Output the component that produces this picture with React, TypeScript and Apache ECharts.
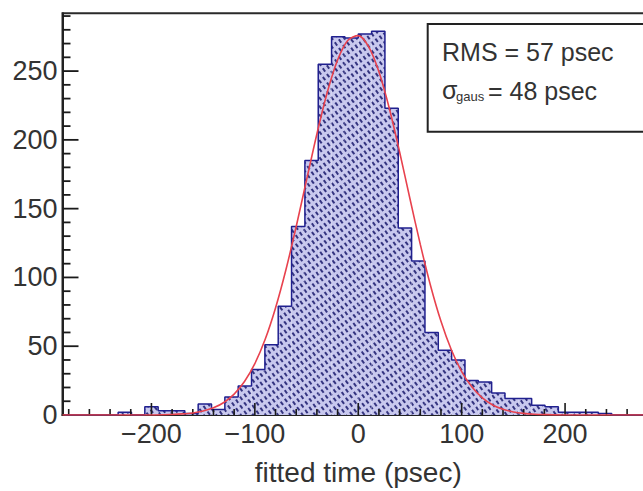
import React, { useEffect, useRef } from 'react';
import * as echarts from 'echarts';

// Histogram: bin width (psec) and index of first bin (edges at k * BIN_WIDTH)
const BIN_WIDTH = 12.9;
const FIRST_BIN_INDEX = -22;
const binCounts = [
  0, 0, 0, 0, 2, 0, 6, 3, 3, 1, 8, 4, 13, 21, 33, 51, 79, 137, 185, 255, 275, 274,
  277, 279, 223, 136, 112, 60, 47, 40, 25, 24, 16, 12, 12, 7, 6, 2, 2, 2, 1, 0, 0, 0,
];

// Gaussian fit curve
const fitX = [-286, -200, -180, -170, -160, -150, -140, -130, -120, -110, -100, -90, -80, -70, -60, -50, -40, -30, -20, -10, 0, 10, 20, 30, 40, 50, 60, 70, 80, 90, 100, 110, 120, 130, 140, 150, 160, 170, 180, 200, 286];
const fitY = [0, 0, 0.4, 0.8, 1.5, 2.9, 5.2, 9.1, 15.2, 24.3, 37.3, 55.0, 77.8, 105.4, 137.0, 170.8, 204.3, 234.4, 258.0, 272.4, 275.8, 267.8, 249.5, 223.0, 191.2, 157.2, 124.0, 93.8, 68.1, 47.4, 31.6, 20.3, 12.4, 7.3, 4.1, 2.2, 1.2, 0.6, 0.3, 0, 0];

const X_MIN = -286;
const X_MAX = 286;
const Y_MIN = 0;
const Y_MAX = 292;

// Axis ticks (ROOT style: major + minor, drawn inward)
const xMajorTicks = [-200, -100, 0, 100, 200];
const xMinorStep = 20;
const yMajorTicks = [0, 50, 100, 150, 200, 250];
const yMinorStep = 10;

const statsLine1 = 'RMS = 57 psec';
const statsSigma = 'σ';
const statsSub = 'gaus';
const statsLine2 = '= 48 psec';
const xAxisName = 'fitted time (psec)';

const FONT = '"Liberation Sans", Arial, Helvetica, sans-serif';

export default function App() {
  const ref = useRef<HTMLDivElement>(null);
  useEffect(() => {
    if (!ref.current) return;
    const chart = echarts.init(ref.current, undefined, { renderer: 'svg' });

    const barData = binCounts.map((c, i) => [(FIRST_BIN_INDEX + i + 0.5) * BIN_WIDTH, c]);
    const outline: number[][] = [];
    binCounts.forEach((c, i) => {
      const lo = (FIRST_BIN_INDEX + i) * BIN_WIDTH;
      const hi = lo + BIN_WIDTH;
      if (i === 0) outline.push([lo, 0]);
      outline.push([lo, c]);
      outline.push([hi, c]);
      if (i === binCounts.length - 1) outline.push([hi, 0]);
    });
    const fitData = fitX.map((x, i) => [x, fitY[i]]);

    const xTickData: number[][] = [];
    for (let v = Math.ceil(X_MIN / xMinorStep) * xMinorStep; v <= X_MAX; v += xMinorStep) {
      xTickData.push([v, Y_MIN, xMajorTicks.includes(v) ? 1 : 0]);
    }
    const yTickData: number[][] = [];
    for (let v = Y_MIN + yMinorStep; v <= Y_MAX; v += yMinorStep) {
      yTickData.push([X_MIN, v, yMajorTicks.includes(v) ? 1 : 0]);
    }

    const minus = (v: number) => (v < 0 ? '\u2212' + Math.abs(v) : String(v));

    chart.setOption({
      animation: false,
      textStyle: { fontFamily: FONT },
      grid: {
        left: 62.5,
        top: 13.3,
        right: 16,
        bottom: 76,
        show: true,
        borderColor: '#2a2a2a',
        borderWidth: 2,
        backgroundColor: 'transparent',
      },
      xAxis: {
        type: 'value',
        min: X_MIN,
        max: X_MAX,
        splitNumber: 5,
        name: xAxisName,
        nameLocation: 'middle',
        nameGap: 43,
        nameTextStyle: { fontSize: 28, color: '#333', fontFamily: FONT },
        axisLine: { show: true, onZero: false, lineStyle: { color: '#222', width: 2 } },
        axisTick: { show: false },
        axisLabel: {
          showMinLabel: false,
          showMaxLabel: false,
          fontSize: 27,
          color: '#333',
          margin: 5,
          formatter: minus,
          fontFamily: FONT,
        },
        splitLine: { show: false },
      },
      yAxis: {
        type: 'value',
        min: Y_MIN,
        max: Y_MAX,
        interval: 50,
        axisLine: { show: true, onZero: false, lineStyle: { color: '#222', width: 2 } },
        axisTick: { show: false },
        axisLabel: {
          showMaxLabel: false,
          fontSize: 27,
          color: '#333',
          margin: 5,
          fontFamily: FONT,
        },
        splitLine: { show: false },
      },
      series: [
        {
          type: 'bar',
          data: barData,
          barWidth: '100%',
          barGap: '-100%',
          itemStyle: {
            color: '#c8c8ee',
            decal: {
              symbol: 'rect',
              symbolSize: 1,
              dashArrayX: [2, 2.6],
              dashArrayY: [3.2, 2.8],
              rotation: -Math.PI / 5,
              color: 'rgba(15,15,100,0.8)',
            },
          },
          z: 2,
        },
        {
          type: 'line',
          data: outline,
          symbol: 'none',
          lineStyle: { color: '#20208f', width: 1.5 },
          z: 3,
        },
        {
          type: 'custom',
          data: xTickData,
          silent: true,
          clip: false,
          z: 5,
          renderItem: (params: any, api: any) => {
            const p = api.coord([api.value(0), api.value(1)]);
            const len = api.value(2) ? 12 : 6;
            return {
              type: 'line',
              shape: { x1: p[0], y1: p[1], x2: p[0], y2: p[1] - len },
              style: { stroke: '#1a1a1a', lineWidth: 1.6 },
            };
          },
        },
        {
          type: 'custom',
          data: yTickData,
          silent: true,
          clip: false,
          z: 5,
          renderItem: (params: any, api: any) => {
            const p = api.coord([api.value(0), api.value(1)]);
            const len = api.value(2) ? 16 : 8;
            return {
              type: 'line',
              shape: { x1: p[0], y1: p[1], x2: p[0] + len, y2: p[1] },
              style: { stroke: '#1a1a1a', lineWidth: 1.8 },
            };
          },
        },
        {
          type: 'line',
          data: fitData,
          smooth: 0.3,
          symbol: 'none',
          lineStyle: { color: '#e8424e', width: 1.6 },
          z: 6,
        },
      ],
      graphic: [
        {
          type: 'rect',
          z: 100,
          shape: { x: 427.7, y: 24, width: 320, height: 107.7 },
          style: { fill: '#ffffff', stroke: '#222', lineWidth: 2 },
        },
        {
          type: 'text',
          z: 101,
          x: 442,
          y: 52,
          style: { text: statsLine1, fill: '#333', font: `25px ${FONT}`, verticalAlign: 'middle' },
        },
        {
          type: 'text',
          z: 101,
          x: 442,
          y: 90,
          style: { text: statsSigma, fill: '#333', font: `25px ${FONT}`, verticalAlign: 'middle' },
        },
        {
          type: 'text',
          z: 101,
          x: 456,
          y: 96,
          style: { text: statsSub, fill: '#333', font: `13px ${FONT}`, verticalAlign: 'middle' },
        },
        {
          type: 'text',
          z: 101,
          x: 488,
          y: 91,
          style: { text: statsLine2, fill: '#333', font: `25px ${FONT}`, verticalAlign: 'middle' },
        },
      ],
    });
    return () => chart.dispose();
  }, []);

  return (
    <div style={{ position: 'fixed', left: 0, top: 0, width: 643, height: 491, overflow: 'hidden', background: '#fff' }}>
      <div ref={ref} style={{ width: 670, height: 491 }} />
    </div>
  );
}
